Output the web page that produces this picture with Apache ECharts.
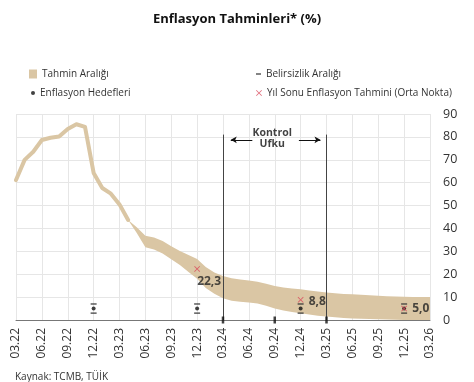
<!DOCTYPE html>
<html>
<head>
<meta charset="utf-8">
<script src="https://cdn.jsdelivr.net/npm/echarts@6/dist/echarts.min.js"></script>
<style>html,body{margin:0;padding:0;background:#fff;}#c{width:474px;height:382px;}</style>
</head>
<body>
<div id="c"></div>
<script>
// Month index 0 = 03.22 ... 48 = 03.26
const quarterLabels = ['03.22','06.22','09.22','12.22','03.23','06.23','09.23','12.23','03.24','06.24','09.24','12.24','03.25','06.25','09.25','12.25','03.26'];
// Realised annual inflation, monthly from 03.22 (index 0) to 04.23 (index 13)
const histStart = 0;
const histValues = [61.14, 69.97, 73.50, 78.62, 79.60, 80.21, 83.45, 85.51, 84.39, 64.27, 57.68, 55.18, 50.51, 43.68];
// Forecast band, monthly from 04.23 (index 13) to 03.26 (index 48)
const bandStart = 13;
const bandLow  = [43.68, 38.0, 31.8, 30.8, 29.0, 26.5, 24.0, 21.0, 18.0, 14.0, 11.5, 9.5, 8.4, 8.0, 7.7, 7.2, 6.2, 5.0, 4.2, 3.5, 3.0, 2.4, 1.9, 1.5, 1.2, 0.9, 0.7, 0.5, 0.4, 0.3, 0.2, 0.1, 0, 0, 0, 0];
const bandHigh = [43.68, 40.5, 36.8, 36.0, 34.5, 32.2, 30.2, 28.4, 26.6, 23.2, 20.8, 19.2, 18.2, 17.7, 17.3, 16.7, 15.8, 14.8, 14.2, 13.8, 13.4, 12.9, 12.4, 12.0, 11.7, 11.4, 11.2, 11.0, 10.8, 10.6, 10.4, 10.3, 10.2, 10.1, 10.0, 10.0];
// Inflation targets and uncertainty range (year-ends)
const targetMonths = [9, 21, 33, 45];
const targetValues = [5, 5, 5, 5];
const uncertaintyLow = [3, 3, 3, 3];
const uncertaintyHigh = [7, 7, 7, 7];
// Year-end forecasts (mid point)
const forecastMonths = [21, 33, 45];
const forecastValues = [22.3, 8.8, 5.0];
// Control horizon
const horizonMonths = [24, 36];
const horizonTop = 81;
const axisMarkMonths = [24, 30, 36];

const TAN = '#dac6a4';
const RED = '#d9475a';
const XPATH = 'path://M0,1L1,0L5,4L9,0L10,1L6,5L10,9L9,10L5,6L1,10L0,9L4,5Z';

const hist = histValues.map((v, i) => [histStart + i, v]);
const band = bandLow.map((v, i) => [bandStart + i, v, bandHigh[i]]);
const targets = targetMonths.map((m, i) => [m, targetValues[i]]);
const uncert = [];
targetMonths.forEach((m, i) => { uncert.push([m, uncertaintyLow[i]]); uncert.push([m, uncertaintyHigh[i]]); });
const labelCfg = [
  { position: 'right', offset: [-8, 13] },
  { position: 'right', offset: [0, 2] },
  { position: 'right', offset: [0, 0] }
];
const forecasts = forecastMonths.map((m, i) => ({ value: [m, forecastValues[i]], label: labelCfg[i] }));
const midH = (horizonMonths[0] + horizonMonths[1]) / 2;

function renderBand(params, api) {
  if (params.dataIndex !== 0) return null;
  const pts = [];
  band.forEach(d => pts.push(api.coord([d[0], d[2]])));
  for (let i = band.length - 1; i >= 0; i--) pts.push(api.coord([band[i][0], band[i][1]]));
  return { type: 'polygon', shape: { points: pts }, style: { fill: TAN, stroke: null } };
}

const chart = echarts.init(document.getElementById('c'), null, { renderer: 'canvas' });
const legendText = { fontSize: 10, color: '#333', fontFamily: 'Open Sans' };
chart.setOption({
  animation: false,
  textStyle: { fontFamily: 'Open Sans' },
  title: [
    { text: 'Enflasyon Tahminleri* (%)', left: 'center', top: 8, textStyle: { fontSize: 13, fontWeight: 'bold', color: '#111', fontFamily: 'Open Sans' } },
    { text: 'Kaynak: TCMB, TÜİK', left: 10, top: 367, textStyle: { fontSize: 10, fontWeight: 'normal', color: '#333', fontFamily: 'Open Sans' } }
  ],
  legend: [
    { left: 24, top: 64, itemWidth: 8, itemHeight: 9, selectedMode: false, textStyle: legendText, data: [{ name: 'Tahmin Aralığı', icon: 'rect' }] },
    { left: 26, top: 83, itemWidth: 4, itemHeight: 4, selectedMode: false, textStyle: legendText, data: [{ name: 'Enflasyon Hedefleri', icon: 'circle' }] },
    { left: 251, top: 64, itemWidth: 5, itemHeight: 1.5, selectedMode: false, textStyle: legendText, data: [{ name: 'Belirsizlik Aralığı', icon: 'rect' }] },
    { left: 251, top: 83, itemWidth: 6, itemHeight: 6, selectedMode: false, textStyle: legendText, data: [{ name: 'Yıl Sonu Enflasyon Tahmini (Orta Nokta)', icon: XPATH }] }
  ],
  grid: { left: 16, right: 44, top: 114, bottom: 62, containLabel: false },
  xAxis: {
    type: 'value', min: 0, max: 48, interval: 3,
    axisLine: { show: true, onZero: false, lineStyle: { color: '#777', width: 1 } },
    axisTick: { show: false },
    axisLabel: { rotate: 90, margin: 8, fontSize: 12, color: '#333', formatter: v => quarterLabels[v / 3] },
    splitLine: { show: true, lineStyle: { color: '#e6e6e6', width: 1 } }
  },
  yAxis: {
    type: 'value', position: 'right', min: 0, max: 90, interval: 10,
    axisLine: { show: false }, axisTick: { show: false },
    axisLabel: { margin: 13, fontSize: 12.5, color: '#333' },
    splitLine: { show: true, lineStyle: { color: '#e6e6e6', width: 1 } }
  },
  series: [
    { name: 'Tahmin Aralığı', type: 'custom', renderItem: renderBand, data: band, encode: { x: 0, y: [1, 2] }, itemStyle: { color: TAN }, z: 2, silent: true },
    { name: 'hist', type: 'line', data: hist, symbol: 'none', lineStyle: { width: 4, color: TAN, cap: 'round', join: 'round' }, z: 3,
      markLine: {
        silent: true, symbol: ['none', 'none'], label: { show: false },
        lineStyle: { color: '#444', width: 1, type: 'solid' },
        data: horizonMonths.map(m => [{ coord: [m, 0] }, { coord: [m, horizonTop] }])
      }
    },
    { name: 'arrows', type: 'line', data: [], markLine: {
        silent: true, symbol: ['none', 'arrow'], symbolSize: [5, 6], label: { show: false },
        lineStyle: { color: '#111', width: 1, type: 'solid' },
        data: [
          [{ coord: [midH - 2.6, 78.7] }, { coord: [horizonMonths[0] + 0.9, 78.7] }],
          [{ coord: [midH + 2.8, 78.7] }, { coord: [horizonMonths[1] - 0.7, 78.7] }]
        ]
      }
    },
    { name: 'horizonText', type: 'scatter', data: [[midH - 0.3, 79.2]], symbolSize: 0, silent: true,
      label: { show: true, position: 'inside', formatter: 'Kontrol\nUfku', fontSize: 10.5, fontWeight: 'bold', color: '#111', lineHeight: 11 } },
    { name: 'Belirsizlik Aralığı', type: 'scatter', data: uncert, symbol: 'rect', symbolSize: [6, 1.5], itemStyle: { color: '#333' }, z: 5 },
    { name: 'Enflasyon Hedefleri', type: 'scatter', data: targets, symbol: 'circle', symbolSize: 4, itemStyle: { color: '#111' }, z: 5 },
    { name: 'Yıl Sonu Enflasyon Tahmini (Orta Nokta)', type: 'scatter', data: forecasts, symbol: XPATH, symbolSize: 6, itemStyle: { color: RED }, z: 6,
      label: { show: true, fontSize: 12, fontWeight: 'bold', color: '#222', formatter: p => p.value[1].toFixed(1).replace('.', ',') } },
    { name: 'axisMarks', type: 'scatter', data: axisMarkMonths.map(m => [m, 0]), symbol: 'rect', symbolSize: [2.5, 7], itemStyle: { color: '#111' }, silent: true, z: 7 }
  ]
});
</script>
</body>
</html>
